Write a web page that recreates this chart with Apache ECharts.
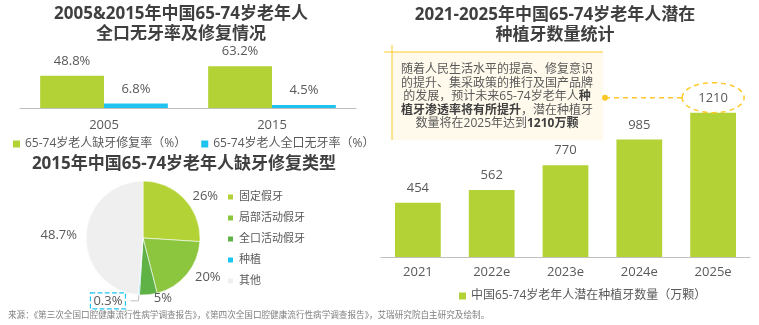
<!DOCTYPE html>
<html><head><meta charset="utf-8">
<script src="https://cdn.jsdelivr.net/npm/echarts@6/dist/echarts.min.js"></script>
<style>html,body{margin:0;padding:0;background:#fff}#c{width:759px;height:325px}</style>
</head><body><div id="c"></div>
<script>
// ---- data ----
const yearsA = ['2005', '2015'];
const repairRate = [48.8, 63.2];
const edentulousRate = [6.8, 4.5];
const seriesNamesA = ['65-74岁老人缺牙修复率（%）', '65-74岁老人全口无牙率（%）'];
const pieNames = ['固定假牙', '局部活动假牙', '全口活动假牙', '种植', '其他'];
const pieValues = [26, 20, 5, 0.3, 48.7];
const yearsB = ['2021', '2022e', '2023e', '2024e', '2025e'];
const implants = [454, 562, 770, 985, 1210];
const seriesNameB = '中国65-74岁老年人潜在种植牙数量（万颗）';

const FONT = "'Open Sans','Noto Sans CJK SC',sans-serif";
const LIME = '#b2d235', BLUE = '#1ec3ef';
const pieColors = ['#b2d235', '#8cc63f', '#5fb246', '#1cc6f0', '#efefef'];
const TXT = '#595959', TITLE = '#3f3f3f';

const chart = echarts.init(document.getElementById('c'), null, {renderer: 'canvas'});

const pieData = pieNames.map((n, i) => {
  const d = {name: n, value: pieValues[i], itemStyle: {color: pieColors[i]}};
  if (n === '种植') {
    d.label = {borderColor: '#1cc6f0', borderType: 'dashed', borderWidth: 1.2, padding: [2, 3, 1, 3]};
    d.labelLine = {show: true, length: 6, length2: 8, lineStyle: {color: '#bfbfbf', width: 1}};
  }
  return d;
});

chart.setOption({
  animation: false,
  textStyle: {fontFamily: FONT},
  title: [
    {text: '2005&2015年中国65-74岁老年人\n全口无牙率及修复情况', left: 181, top: 4, padding: 0, textAlign: 'center',
     textStyle: {fontSize: 17, fontWeight: 'bold', color: TITLE, lineHeight: 20, fontFamily: FONT}},
    {text: '2015年中国65-74岁老年人缺牙修复类型', left: 184, top: 156, padding: 0, textAlign: 'center',
     textStyle: {fontSize: 17, fontWeight: 'bold', color: TITLE, fontFamily: FONT}},
    {text: '2021-2025年中国65-74岁老年人潜在\n种植牙数量统计', left: 555, top: 5, padding: 0, textAlign: 'center',
     textStyle: {fontSize: 17, fontWeight: 'bold', color: TITLE, lineHeight: 20, fontFamily: FONT}}
  ],
  legend: [
    {data: seriesNamesA, left: 13, top: 138, padding: 0, itemWidth: 7, itemHeight: 7, itemGap: 15,
     icon: 'rect', textStyle: {fontSize: 12, color: TXT, fontFamily: FONT}},
    {data: pieNames, orient: 'vertical', left: 226, top: 190, padding: 0, itemWidth: 7, itemHeight: 7,
     itemGap: 7, icon: 'rect', textStyle: {fontSize: 11, color: TXT, lineHeight: 14, fontFamily: FONT}},
    {data: [seriesNameB], left: 459, top: 290, padding: 0, itemWidth: 7, itemHeight: 7,
     icon: 'rect', textStyle: {fontSize: 12, color: TXT, fontFamily: FONT}}
  ],
  grid: [
    {left: 20, width: 336, top: 42, height: 66},
    {left: 381, width: 369, top: 90, height: 167}
  ],
  xAxis: [
    {gridIndex: 0, type: 'category', data: yearsA, axisTick: {show: false},
     axisLine: {lineStyle: {color: '#bfbfbf', width: 1}},
     axisLabel: {color: TXT, fontSize: 13, margin: 11}},
    {gridIndex: 1, type: 'category', data: yearsB, axisTick: {show: false},
     axisLine: {lineStyle: {color: '#bfbfbf', width: 1}},
     axisLabel: {color: TXT, fontSize: 13, margin: 9}}
  ],
  yAxis: [
    {gridIndex: 0, type: 'value', min: 0, max: 100, show: false},
    {gridIndex: 1, type: 'value', min: 0, max: 1400, show: false}
  ],
  series: [
    {type: 'bar', name: seriesNamesA[0], xAxisIndex: 0, yAxisIndex: 0, data: repairRate,
     barGap: 0, barCategoryGap: '24%', itemStyle: {color: LIME},
     label: {show: true, position: 'top', distance: 8, formatter: '{c}%', color: TXT, fontSize: 13}},
    {type: 'bar', name: seriesNamesA[1], xAxisIndex: 0, yAxisIndex: 0, data: edentulousRate,
     barGap: 0, barCategoryGap: '24%', itemStyle: {color: BLUE},
     label: {show: true, position: 'top', distance: 8, formatter: '{c}%', color: TXT, fontSize: 13}},
    {type: 'pie', name: '修复类型', center: [143, 238], radius: 57, startAngle: 90, clockwise: true,
     avoidLabelOverlap: false, data: pieData,
     itemStyle: {borderColor: '#fff', borderWidth: 0.6},
     label: {show: true, position: 'outside', formatter: '{c}%', color: TXT, fontSize: 13},
     labelLine: {show: false, length: 4, length2: 0}},
    {type: 'bar', name: seriesNameB, xAxisIndex: 1, yAxisIndex: 1, data: implants,
     barCategoryGap: '38%', itemStyle: {color: LIME},
     label: {show: true, position: 'top', distance: 8, color: TXT, fontSize: 13}}
  ]
});

// annotation anchored to the last bar's value
const p = chart.convertToPixel({xAxisIndex: 1, yAxisIndex: 1}, [yearsB[yearsB.length - 1], implants[implants.length - 1]]);
const ex = p[0], ey = p[1] - 15;
const GOLD = '#fdc92a';
chart.setOption({
  graphic: [
    {type: 'rect', shape: {x: 392, y: 52, width: 211, height: 88}, style: {fill: '#fffaec'}, z: 1},
    {type: 'line', shape: {x1: 384, y1: 52, x2: 603, y2: 52}, style: {stroke: GOLD, lineWidth: 1}, z: 2},
    {type: 'line', shape: {x1: 392, y1: 45, x2: 392, y2: 140}, style: {stroke: GOLD, lineWidth: 1}, z: 2},
    {type: 'text', x: 497, y: 63, z: 3, style: {
      text: '随着人民生活水平的提高、修复意识\n的提升、集采政策的推行及国产品牌\n的发展，预计未来65-74岁老年人{b|种}\n{b|植牙渗透率将有所提升}，潜在种植牙\n数量将在2025年达到{b|1210万颗}',
      align: 'center', verticalAlign: 'top', fill: TXT, font: '12px ' + FONT, lineHeight: 13.5,
      rich: {b: {fontWeight: 'bold', fill: '#404040', fontSize: 12, fontFamily: FONT, lineHeight: 13.5}}
    }},
    {type: 'circle', shape: {cx: 605, cy: ey, r: 3}, style: {fill: GOLD}, z: 3},
    {type: 'line', shape: {x1: 605, y1: ey, x2: ex - 31, y2: ey}, style: {stroke: GOLD, lineWidth: 1.5, lineDash: [5, 4]}, z: 3},
    {type: 'ellipse', shape: {cx: ex, cy: ey, rx: 31, ry: 15}, style: {fill: 'none', stroke: GOLD, lineWidth: 1.5, lineDash: [5, 4]}, z: 3},
    {type: 'text', x: 8, y: 311, style: {
      text: '来源：《第三次全国口腔健康流行性病学调查报告》，《第四次全国口腔健康流行性病学调查报告》，艾瑞研究院自主研究及绘制。',
      fill: '#7f7f7f', font: '8.6px ' + FONT}}
  ]
});
</script></body></html>
